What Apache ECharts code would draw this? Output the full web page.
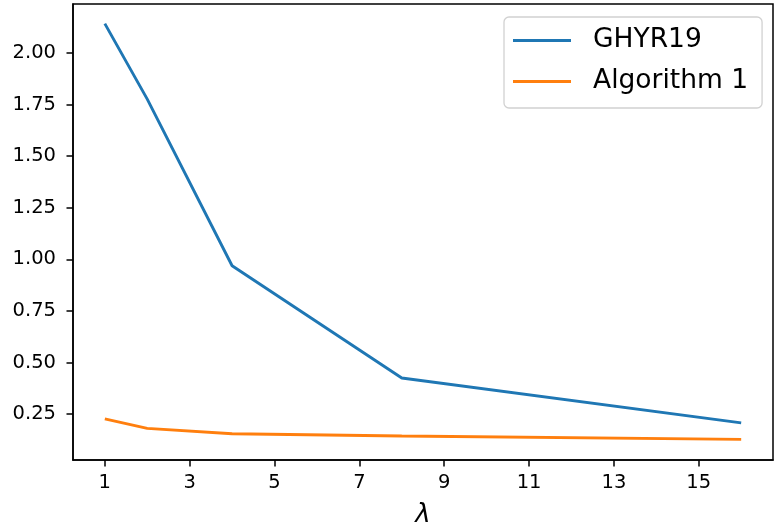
<!DOCTYPE html>
<html>
<head>
<meta charset="utf-8">
<script src="https://cdn.jsdelivr.net/npm/echarts@6/dist/echarts.min.js"></script>
<style>html,body{margin:0;padding:0;background:#fff}#c{width:774px;height:529px}</style>
</head>
<body>
<div id="c"></div>
<script>
const lambdas = [1, 2, 4, 8, 16];
const ghyr19 = [2.142, 1.776, 0.969, 0.425, 0.208];
const algorithm1 = [0.227, 0.181, 0.155, 0.144, 0.128];
const seriesNames = ['GHYR19', 'Algorithm 1'];
const xTicks = [1, 3, 5, 7, 9, 11, 13, 15];
const yTicks = [0.25, 0.5, 0.75, 1.0, 1.25, 1.5, 1.75, 2.0];

const font = 'DejaVu Sans';
const chart = echarts.init(document.getElementById('c'), null, {renderer: 'canvas'});
const pair = (xs, ys) => xs.map((x, i) => [x, ys[i]]);
chart.setOption({
  animation: false,
  backgroundColor: '#fff',
  grid: {left: 73, right: 1, top: 4, bottom: 69, containLabel: false, outerBoundsMode: 'none',
         show: true, borderColor: '#000', borderWidth: 1.5, backgroundColor: 'transparent'},
  legend: {
    data: seriesNames,
    orient: 'vertical',
    left: 504, top: 17,
    padding: [10, 14, 13, 9],
    itemGap: 14,
    itemWidth: 58, itemHeight: 3,
    icon: 'rect',
    backgroundColor: '#fff',
    borderColor: 'rgba(204,204,204,0.9)', borderWidth: 1.3, borderRadius: 5,
    textStyle: {fontFamily: font, fontSize: 26.5, color: '#000', padding: [0, 0, 0, 17]}
  },
  xAxis: {
    type: 'value', min: 0.25, max: 16.75,
    name: 'λ', nameLocation: 'middle', nameGap: 42,
    nameTextStyle: {fontFamily: font, fontSize: 26, fontStyle: 'italic', color: '#000'},
    axisLine: {show: true, lineStyle: {color: '#000', width: 1.5}},
    axisTick: {show: true, inside: false, length: 6.5, lineStyle: {color: '#000', width: 1.5}, customValues: xTicks},
    axisLabel: {fontFamily: font, fontSize: 19.5, color: '#000', margin: 13, customValues: xTicks, formatter: v => String(v)},
    splitLine: {show: false}
  },
  yAxis: {
    type: 'value', min: 0.028, max: 2.237,
    axisLine: {show: true, lineStyle: {color: '#000', width: 1.5}},
    axisTick: {show: true, inside: false, length: 6.5, lineStyle: {color: '#000', width: 1.5}, customValues: yTicks},
    axisLabel: {fontFamily: font, fontSize: 19.5, color: '#000', margin: 17, customValues: yTicks, formatter: v => v.toFixed(2)},
    splitLine: {show: false}
  },
  series: [
    {name: seriesNames[0], type: 'line', data: pair(lambdas, ghyr19), showSymbol: false, symbol: 'none',
     lineStyle: {color: '#1f77b4', width: 2.9}, itemStyle: {color: '#1f77b4'}},
    {name: seriesNames[1], type: 'line', data: pair(lambdas, algorithm1), showSymbol: false, symbol: 'none',
     lineStyle: {color: '#ff7f0e', width: 2.9}, itemStyle: {color: '#ff7f0e'}}
  ]
});
</script>
</body>
</html>
